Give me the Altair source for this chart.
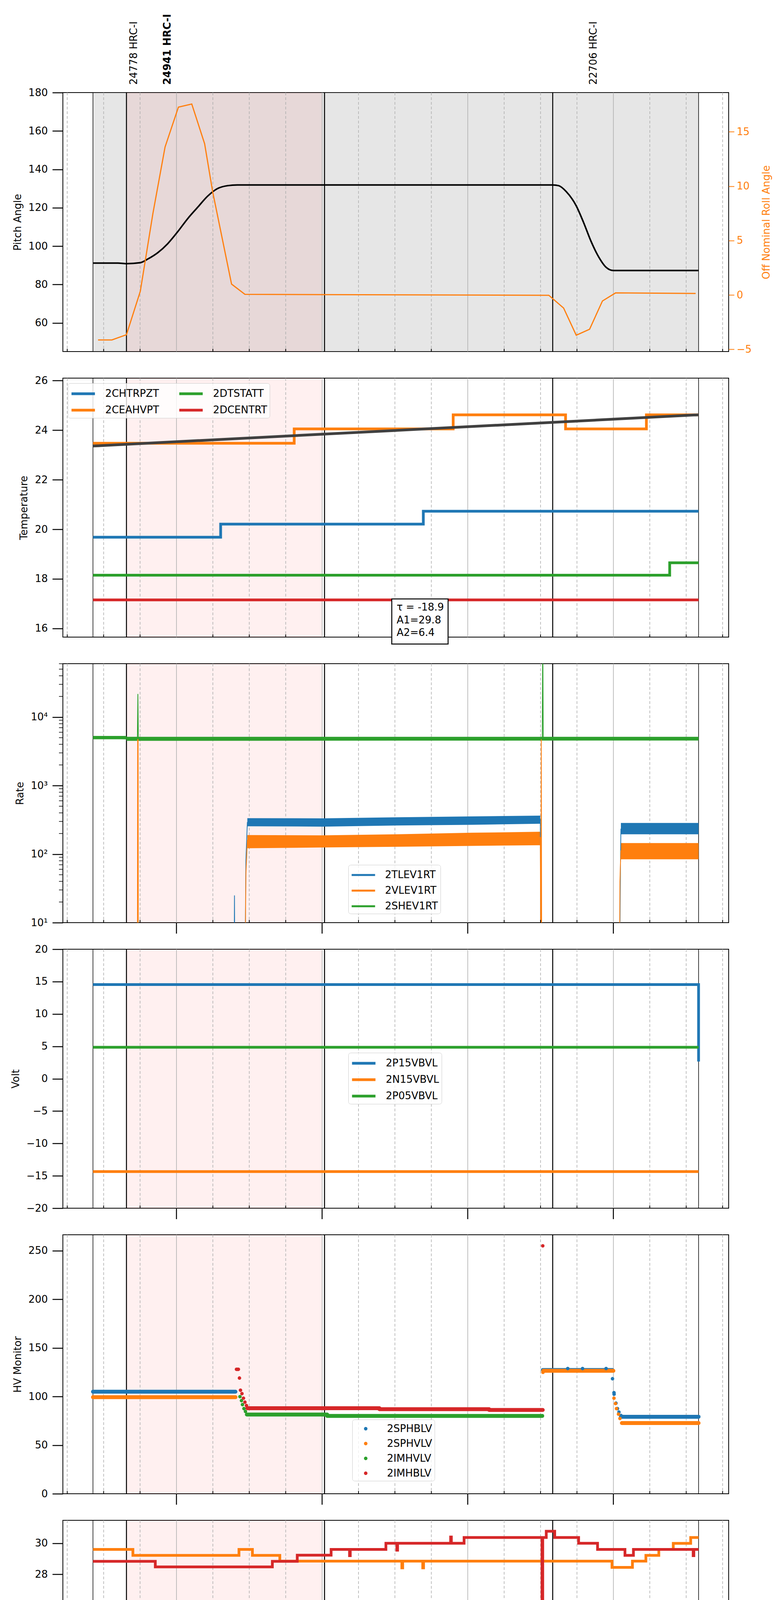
import altair as alt
import pandas as pd

W, H = 1705, 663
BLUE, ORANGE, GREEN, RED = "#1f77b4", "#ff7f0e", "#2ca02c", "#d62728"
FOUR = [BLUE, ORANGE, GREEN, RED]

# time is minutes after 2021-02-16 05:00
x_domain = [13.2, 287.5]
quarter_t = [15, 30, 45, 75, 90, 105, 135, 150, 165, 195, 210, 225, 255, 270, 285]
hour_t = [60, 120, 180, 240]
hour_text = ["06h", "07h", "08h", "09h"]
obs_line_t = [25.6, 39.4, 121.0, 215.0, 275.1]
obs_line_w = [1.5, 2.5, 2.5, 2.5, 1.5]
pink_t = [39.4, 120.0]
gray_t = [25.6, 275.1]
obsid_t = [42.5, 56.3, 231.8]
obsid_text = ["24778 HRC-I", "24941 HRC-I", "22706 HRC-I"]
obsid_bold = [False, True, False]

# panel 1: pitch and roll
pitch_t = [25.6, 35.9, 39.4, 45.1, 48.2, 52.3, 56.4, 60.5, 64.6, 68.7, 72.8, 76.9, 81.0, 85.1,
           215.0, 217.5, 220.6, 224.7, 227.7, 230.8, 233.9, 237.0, 240.0, 275.1]
pitch_v = [91.2, 91.2, 90.9, 91.4, 93.3, 96.6, 101.3, 107.5, 114.3, 120.2, 126.0, 130.0, 131.5, 131.9,
           131.9, 131.5, 128.4, 121.0, 112.4, 102.5, 94.5, 89.0, 87.3, 87.3]
roll_t = [27.7, 33.4, 39.4, 45.1, 50.3, 55.3, 60.8, 66.3, 71.6, 74.9, 82.7, 88.2, 121.0,
          213.4, 219.5, 224.7, 230.2, 235.5, 240.9, 273.9]
roll_v = [-4.13, -4.13, -3.65, 0.34, 7.5, 13.6, 17.26, 17.55, 13.9, 9.5, 1.0, 0.06, 0.03,
          -0.03, -1.2, -3.7, -3.15, -0.55, 0.19, 0.14]

# panel 2: temperature
temp_names = ["2CHTRPZT", "2CEAHVPT", "2DTSTATT", "2DCENTRT"]
temp_t = [[25.6, 78.2, 161.7, 275.1],
          [25.6, 108.5, 174.0, 220.3, 253.6, 275.1],
          [25.6, 263.2, 275.1],
          [25.6, 275.1]]
temp_v = [[19.68, 20.21, 20.73, 20.73],
          [23.47, 24.05, 24.62, 24.05, 24.62, 24.62],
          [18.15, 18.65, 18.65],
          [17.15, 17.15]]
model_t = [25.6, 275.1]
model_v = [23.36, 24.62]
fit_text = "τ = -18.9\nA1=29.8\nA2=6.4"

# panel 3: rates (log)
rate_names = ["2TLEV1RT", "2VLEV1RT", "2SHEV1RT"]
rate_t = [[25.6, 83.7, 83.9, 84.1, 88.2, 88.6, 89.2, 209.9, 210.1, 242.5, 242.9, 243.1, 275.1],
          [25.6, 43.9, 44.0, 44.2, 44.3, 88.2, 88.6, 89.2, 209.9, 210.1, 210.3, 210.5, 242.5, 242.7, 243.1, 275.1],
          [25.6, 39.4, 43.9, 44.1, 44.3, 210.7, 210.9, 211.1, 275.1]]
rate_v = [[1, 1, 25, 1, 1, 80, 290, 320, 1, 1, 60, 232, 232],
          [1, 1, 4800, 4800, 1, 1, 50, 160, 175, 1, 4800, 1, 1, 40, 112, 112],
          [5000, 4800, 4800, 21700, 4800, 4800, 200000, 4800, 4800]]
band_color = [BLUE, BLUE, ORANGE, ORANGE, GREEN, GREEN]
band_t = [[89.2, 120.0, 150.8, 181.6, 209.9], [243.1, 275.1],
          [89.2, 120.0, 150.8, 181.6, 209.9], [243.1, 275.1],
          [25.6, 39.4], [39.4, 275.1]]
band_lo = [[255, 252, 262, 268, 278], [195, 195],
           [122, 125, 128, 132, 135], [84, 84],
           [4750, 4750], [4500, 4550]]
band_hi = [[335, 333, 345, 355, 365], [285, 285],
           [190, 188, 195, 205, 212], [145, 145],
           [5300, 5300], [5150, 5150]]
rate_minor = [20, 30, 40, 50, 60, 70, 80, 90, 200, 300, 400, 500, 600, 700, 800, 900,
              2000, 3000, 4000, 5000, 6000, 7000, 8000, 9000, 20000, 30000, 40000, 50000, 60000]

# panel 4: volt
volt_names = ["2P15VBVL", "2N15VBVL", "2P05VBVL"]
volt_t = [[25.6, 275.1, 275.1], [25.6, 275.1], [25.6, 275.1]]
volt_v = [[14.54, 14.54, 2.65], [-14.35, -14.35], [4.85, 4.85]]

# panel 5: HV monitor (runs of dense points, plus single points)
hv_names = ["2SPHBLV", "2SPHVLV", "2IMHVLV", "2IMHBLV"]
hv_run_t0 = [[25.6, 210.9, 243.1], [25.6, 211.1, 243.5], [89.0, 122.1], [89.2, 143.6, 188.8]]
hv_run_t1 = [[84.3, 239.6, 275.1], [84.3, 240.0, 275.1], [122.1, 210.7], [143.6, 188.8, 210.9]]
hv_run_v = [[105.0, 127.3, 79.2], [99.3, 126.5, 72.7], [81.5, 80.1], [88.0, 87.0, 86.2]]
hv_dot_t = [[221.2, 227.3, 237.0, 239.64, 240.25, 240.3, 241.07, 241.69, 242.3, 243.13],
            [211.0, 240.25, 240.87, 241.28, 242.1, 242.71],
            [86.16, 86.78, 87.19, 87.8, 88.42],
            [84.73, 85.14, 85.5, 85.95, 86.37, 86.98, 87.6, 88.21, 88.83, 210.91]]
hv_dot_v = [[128.8, 128.8, 128.8, 118.3, 104.0, 102.4, 93.2, 87.6, 84.0, 80.5],
            [124.9, 98.3, 92.8, 87.6, 81.9, 77.4],
            [99.9, 95.8, 91.7, 87.6, 84.6],
            [128.0, 128.0, 128.0, 119.0, 106.5, 103.0, 98.3, 94.2, 90.7, 255.0]]

# panel 6: detector temperature
det_names = ["2SPINATM", "2SPHVATM", "2IMINATM", "2IMHVATM"]
det_t = [[25.6, 254.0, 254.5, 255.0, 255.5, 256.0, 256.5, 257.0, 257.5, 258.5, 275.1],
         [25.6, 42.05, 85.75, 91.29, 102.58, 152.85, 153.2, 161.46, 161.8, 239.43, 247.85,
          253.39, 258.72, 264.67, 271.85, 275.1],
         [25.6, 78.4, 78.7, 84.73, 100.52, 100.8, 102.17, 102.45, 103.6, 103.9, 105.24, 105.5,
          109.35, 109.65, 150.79, 151.1, 151.82, 152.1, 164.13, 275.1],
         [25.6, 51.28, 99.5, 109.76, 123.71, 131.3, 131.6, 146.28, 150.79, 151.1, 172.95, 173.25,
          178.49, 210.6, 210.9, 212.35, 215.83, 225.68, 233.48, 244.77, 248.26, 272.87, 273.15, 275.1]]
det_v = [[16.35, 16.97, 16.35, 16.97, 16.35, 16.97, 16.35, 16.97, 16.35, 16.97, 16.97],
         [29.6, 29.22, 29.6, 29.22, 28.85, 28.42, 28.85, 28.42, 28.85, 28.45, 28.85,
          29.22, 29.6, 29.99, 30.37, 30.37],
         [18.27, 17.62, 18.27, 17.62, 18.27, 17.62, 18.27, 17.62, 18.27, 17.62, 18.27, 17.62,
          18.27, 17.62, 18.27, 17.62, 18.27, 17.62, 18.27, 18.27],
         [28.84, 28.48, 28.84, 29.23, 29.6, 29.2, 29.6, 30.0, 29.55, 30.0, 30.4, 30.0,
          30.37, 10.0, 30.37, 30.77, 30.37, 30.0, 29.6, 29.22, 29.6, 29.2, 29.6, 29.6]]
det_block_t0 = [84.73, 152.85]
det_block_t1 = [99.09, 164.13]
det_block_lo = [17.62, 17.62]
det_block_hi = [18.27, 18.27]

# panel 7: FEA temperature
fea_names = ["2FHTRMZT", "2FRADPYT", "2FEPRATM", "2FE00ATM"]
fea_t = [[25.6, 195.7, 275.1],
         [25.6, 49.85, 96.42, 138.89, 219.94, 238.0, 252.15, 275.1],
         [25.6, 45.13, 45.6, 46.1, 46.6, 47.1, 182.0, 182.5, 183.0, 210.7, 210.8, 275.1],
         [25.6, 59.9, 88.62, 88.9, 90.88, 91.15, 98.88, 99.15, 105.65, 105.9, 108.12, 108.4,
          114.27, 114.55, 124.12, 125.0, 126.0, 127.0, 128.22, 138.89, 139.15, 148.54, 148.8,
          151.0, 151.25, 157.36, 157.6, 159.0, 159.25, 174.39, 174.65, 183.01, 183.25, 195.93,
          196.2, 196.45, 200.04, 201.0, 202.0, 203.0, 204.14, 205.78, 206.05, 207.22, 207.5,
          208.65, 208.9, 210.6, 210.9, 247.23, 247.5, 259.13, 259.4, 265.28, 265.55, 272.26,
          272.8, 273.3, 273.8, 274.3, 275.1]]
fea_v = [[20.74, 21.27, 21.27],
         [16.19, 15.72, 16.19, 16.68, 17.16, 16.68, 16.19, 16.19],
         [23.14, 22.41, 23.14, 22.41, 23.14, 22.41, 23.14, 22.41, 23.14, 21.47, 23.14, 23.14],
         [21.09, 20.79, 20.15, 20.79, 19.24, 20.79, 21.77, 20.79, 21.1, 20.79, 21.77, 20.79,
          20.43, 20.79, 21.09, 20.79, 21.09, 20.79, 21.09, 20.7, 21.09, 20.43, 21.09,
          21.45, 21.09, 20.43, 21.09, 21.45, 21.09, 20.7, 21.09, 21.45, 21.09, 20.43,
          21.45, 21.09, 21.4, 21.09, 21.4, 21.09, 21.4, 21.09, 21.4, 21.09, 21.4,
          21.09, 21.4, 10.0, 21.4, 21.09, 21.4, 20.8, 21.4, 21.09, 21.4, 21.09,
          21.4, 21.09, 21.4, 21.09, 21.09]]


def frame(names, ts, vs):
    parts = []
    for n, t, v in zip(names, ts, vs):
        parts.append(pd.DataFrame({"name": n, "t": t, "v": v, "i": range(len(t))}))
    return pd.concat(parts, ignore_index=True)


def xe(axis=None):
    return alt.X("t:Q", scale=alt.Scale(domain=x_domain, nice=False, zero=False), axis=axis)


def yax(title, values, **kw):
    return alt.Axis(title=title, values=values, tickSize=27, tickWidth=2.5, tickColor="black",
                    domain=False, grid=False, labelFontSize=26, labelColor="black", labelPadding=12,
                    titleFontSize=26, titleFontWeight="normal", titleColor="black", titlePadding=14, **kw)


DASH = "M-1,0H2.43"
DOT = "M0.373,0A0.257,0.257,0,1,0,0.887,0A0.257,0.257,0,1,0,0.373,0Z"


def legend(lx, ly, columns=1, shape=DASH, stroke_w=7, col_pad=20):
    return alt.Legend(title=None, orient="none", legendX=lx, legendY=ly, columns=columns,
                      symbolType=shape, symbolSize=1225, symbolStrokeWidth=stroke_w,
                      labelFontSize=26, labelColor="black", labelOffset=48, labelLimit=0,
                      rowPadding=7, columnPadding=col_pad, padding=6,
                      fillColor="rgba(255,255,255,0.8)", strokeColor="#cccccc", cornerRadius=6)


def colour(domain, rng, leg):
    return alt.Color("name:N", scale=alt.Scale(domain=domain, range=rng), legend=leg)


hour_df = pd.DataFrame({"t": hour_t, "label": hour_text})
quarter_df = pd.DataFrame({"t": quarter_t})
obs_df = pd.DataFrame({"t": obs_line_t, "w": obs_line_w})


def under(gray=False, xa=None):
    out = []
    if gray:
        out.append(alt.Chart(pd.DataFrame({"t": [gray_t[0]], "t2": [gray_t[1]]}))
                   .mark_rect(color="gray", opacity=0.2)
                   .encode(x=xe(xa), x2="t2:Q", y=alt.value(0), y2=alt.value(H)))
    out.append(alt.Chart(pd.DataFrame({"t": [pink_t[0]], "t2": [pink_t[1]]}))
               .mark_rect(color="red", opacity=0.06)
               .encode(x=xe(xa), x2="t2:Q", y=alt.value(0), y2=alt.value(H)))
    out.append(alt.Chart(hour_df).mark_rule(color="#b0b0b0", strokeWidth=1.6)
               .encode(x=xe(xa), y=alt.value(0), y2=alt.value(H)))
    out.append(alt.Chart(quarter_df).mark_rule(color="#b0b0b0", strokeWidth=1.6, strokeDash=[7, 5])
               .encode(x=xe(xa), y=alt.value(0), y2=alt.value(H)))
    out.append(alt.Chart(obs_df).mark_rule(color="black")
               .encode(x=xe(xa), size=alt.Size("w:Q", scale=None), y=alt.value(0), y2=alt.value(H)))
    return out


def over(hour_ticks=True, xa=None):
    out = [alt.Chart(quarter_df).mark_rule(color="black", strokeWidth=2)
           .encode(x=xe(xa), y=alt.value(H - 7), y2=alt.value(H))]
    if hour_ticks:
        out.append(alt.Chart(hour_df).mark_rule(color="black", strokeWidth=2.5)
                   .encode(x=xe(xa), y=alt.value(H), y2=alt.value(H + 28)))
    return out


# ---------- panel 1 ----------
ids = pd.DataFrame({"t": obsid_t, "text": obsid_text, "bold": obsid_bold})
p1 = alt.layer(
    *under(gray=True),
    alt.Chart(pd.DataFrame({"t": pitch_t, "v": pitch_v})).mark_line(color="black", strokeWidth=4, interpolate="monotone")
    .encode(x=xe(), y=alt.Y("v:Q", scale=alt.Scale(domain=[45.1, 180], nice=False, zero=False),
                            axis=yax("Pitch Angle", [60, 80, 100, 120, 140, 160, 180]))),
    alt.Chart(pd.DataFrame({"t": roll_t, "v": roll_v})).mark_line(color=ORANGE, strokeWidth=3)
    .encode(x=xe(), y=alt.Y("v:Q", scale=alt.Scale(domain=[-5.2, 18.6], nice=False, zero=False),
                            axis=alt.Axis(orient="right", title="Off Nominal Roll Angle", values=[-5, 0, 5, 10, 15],
                                          tickSize=14, tickWidth=2, tickColor=ORANGE, domain=False, grid=False,
                                          labelFontSize=26, labelColor=ORANGE, labelPadding=6,
                                          titleFontSize=26, titleFontWeight="normal", titleColor=ORANGE,
                                          titleAngle=270, titleBaseline="top", titlePadding=25))),
    alt.Chart(ids[~ids["bold"]]).mark_text(angle=270, align="left", baseline="middle", fontSize=26)
    .encode(x=xe(), y=alt.value(-20), text="text:N"),
    alt.Chart(ids[ids["bold"]]).mark_text(angle=270, align="left", baseline="middle", fontSize=26, fontWeight="bold")
    .encode(x=xe(), y=alt.value(-20), text="text:N"),
    *over(hour_ticks=False),
).resolve_scale(y="independent").properties(width=W, height=H)

# ---------- panel 2 ----------
ys2 = alt.Scale(domain=[15.65, 26.1], nice=False, zero=False)
ya2 = yax("Temperature", [16, 18, 20, 22, 24, 26])
p2 = alt.layer(
    *under(),
    alt.Chart(frame(temp_names, temp_t, temp_v)).mark_line(strokeWidth=7, interpolate="step-after")
    .encode(x=xe(), y=alt.Y("v:Q", scale=ys2, axis=ya2),
            color=colour(temp_names, FOUR, legend(12.6, 13, columns=2, col_pad=37)),
            order="i:Q"),
    alt.Chart(pd.DataFrame({"t": model_t, "v": model_v})).mark_line(color="#404040", strokeWidth=7)
    .encode(x=xe(), y=alt.Y("v:Q", scale=ys2, axis=ya2)),
    *over(hour_ticks=False),
    alt.Chart(pd.DataFrame({"t": [148.7], "t2": [171.9], "v": [17.19], "v2": [15.37]}))
    .mark_rect(fill="white", stroke="black", strokeWidth=2.5)
    .encode(x=xe(), x2="t2:Q", y=alt.Y("v:Q", scale=ys2, axis=ya2), y2="v2:Q"),
    alt.Chart(pd.DataFrame({"t": [150.7], "v": [17.05], "s": [fit_text]}))
    .mark_text(align="left", baseline="top", fontSize=26, lineBreak="\n", lineHeight=32.5)
    .encode(x=xe(), y=alt.Y("v:Q", scale=ys2, axis=ya2), text="s:N"),
).properties(width=W, height=H)

# ---------- panel 3 ----------
ys3 = alt.Scale(type="log", domain=[10, 60100], nice=False)
ya3 = yax("Rate", [10, 100, 1000, 10000],
          labelExpr="datum.value == 10 ? '10¹' : datum.value == 100 ? '10²' : datum.value == 1000 ? '10³' : '10⁴'")
band_layers = [
    alt.Chart(pd.DataFrame({"t": t, "lo": lo, "hi": hi})).mark_area(color=c, opacity=1, clip=True)
    .encode(x=xe(), y=alt.Y("lo:Q", scale=ys3, axis=ya3), y2="hi:Q")
    for c, t, lo, hi in zip(band_color, band_t, band_lo, band_hi)
]
p3 = alt.layer(
    *under(),
    *band_layers,
    alt.Chart(frame(rate_names, rate_t, rate_v)).mark_line(strokeWidth=2, clip=True)
    .encode(x=xe(), y=alt.Y("v:Q", scale=ys3, axis=ya3),
            color=colour(rate_names, [BLUE, ORANGE, GREEN], legend(731, 515, stroke_w=5)),
            order="i:Q"),
    alt.Chart(pd.DataFrame({"v": rate_minor})).mark_rule(color="black", strokeWidth=1.5)
    .encode(y=alt.Y("v:Q", scale=ys3, axis=ya3), x=alt.value(-10), x2=alt.value(0)),
    *over(),
).properties(width=W, height=H)

# ---------- panel 4 ----------
ys4 = alt.Scale(domain=[-20, 20], nice=False, zero=False)
p4 = alt.layer(
    *under(),
    alt.Chart(frame(volt_names, volt_t, volt_v)).mark_line(strokeWidth=7)
    .encode(x=xe(), y=alt.Y("v:Q", scale=ys4, axis=yax("Volt", [-20, -15, -10, -5, 0, 5, 10, 15, 20])),
            color=colour(volt_names, [BLUE, ORANGE, GREEN], legend(731, 265)), order="i:Q"),
    *over(),
).properties(width=W, height=H)

# ---------- panel 5 ----------
ys5 = alt.Scale(domain=[0, 266.4], nice=False, zero=False)
ya5 = yax("HV Monitor", [0, 50, 100, 150, 200, 250])
run_layers = []
for c, t0s, t1s, vs in zip(FOUR, hv_run_t0, hv_run_t1, hv_run_v):
    for a, b, v in zip(t0s, t1s, vs):
        run_layers.append(
            alt.Chart(pd.DataFrame({"t": [a, b], "v": [v, v]}))
            .mark_line(color=c, strokeWidth=10, strokeCap="round")
            .encode(x=xe(), y=alt.Y("v:Q", scale=ys5, axis=ya5)))
p5 = alt.layer(
    *under(),
    *run_layers,
    alt.Chart(frame(hv_names, hv_dot_t, hv_dot_v)).mark_circle(size=80, opacity=1)
    .encode(x=xe(), y=alt.Y("v:Q", scale=ys5, axis=ya5),
            color=colour(hv_names, FOUR, legend(741, 473, shape=DOT, stroke_w=0))),
    *over(),
).properties(width=W, height=H)

# ---------- panel 6 ----------
ys6 = alt.Scale(domain=[14.85, 31.47], nice=False, zero=False)
ya6 = yax("Detector Temp", [16, 18, 20, 22, 24, 26, 28, 30])
p6 = alt.layer(
    *under(),
    alt.Chart(pd.DataFrame({"t": det_block_t0, "t2": det_block_t1, "lo": det_block_lo, "hi": det_block_hi}))
    .mark_rect(color=GREEN, stroke=GREEN, strokeWidth=7)
    .encode(x=xe(), x2="t2:Q", y=alt.Y("lo:Q", scale=ys6, axis=ya6), y2="hi:Q"),
    alt.Chart(frame(det_names, det_t, det_v)).mark_line(strokeWidth=7, interpolate="step-after", clip=True)
    .encode(x=xe(), y=alt.Y("v:Q", scale=ys6, axis=ya6),
            color=colour(det_names, FOUR, legend(728, 244)), order="i:Q"),
    *over(),
).properties(width=W, height=H)

# ---------- panel 7 ----------
ys7 = alt.Scale(domain=[14.69, 24.63], nice=False, zero=False)
xa7 = alt.Axis(values=quarter_t, labelExpr="'' + (datum.value % 60)", ticks=False, tickSize=0,
               domain=False, grid=False, labelFontSize=17, labelColor="black", labelPadding=6,
               labelFlush=False, title="2021-02-16 (047)", titleFontSize=33,
               titleFontWeight="normal", titleColor="black", titlePadding=50)
p7 = alt.layer(
    *under(xa=xa7),
    alt.Chart(frame(fea_names, fea_t, fea_v)).mark_line(strokeWidth=7, interpolate="step-after", clip=True)
    .encode(x=xe(xa7), y=alt.Y("v:Q", scale=ys7, axis=yax("FEA Temp", [16, 18, 20, 22, 24])),
            color=colour(fea_names, FOUR, legend(1441, 243)), order="i:Q"),
    *over(xa=xa7),
    alt.Chart(hour_df).mark_text(fontSize=26, baseline="middle")
    .encode(x=xe(xa7), y=alt.value(H + 49), text="label:N"),
).properties(width=W, height=H)

chart = (
    alt.vconcat(p1, p2, p3, p4, p5, p6, p7, spacing=68, bounds="flush")
    .resolve_scale(color="independent", x="independent")
    .properties(padding={"left": 18, "top": 26, "right": 10, "bottom": 2})
    .configure(font="DejaVu Sans")
    .configure_view(stroke="black", strokeWidth=2)
)

chart.save("out.html", embed_options={"renderer": "svg", "actions": False})
